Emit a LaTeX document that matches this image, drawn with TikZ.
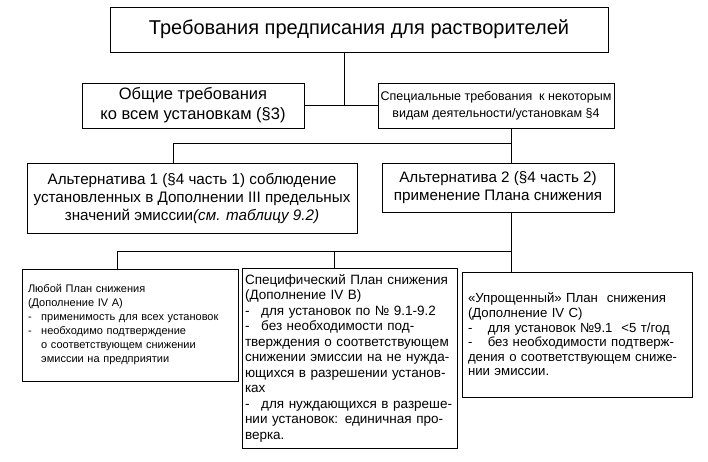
\documentclass[tikz,border=0pt]{standalone}
\usepackage{fontspec}
\setmainfont{Liberation Sans}
\usetikzlibrary{positioning,calc}
\newcommand{\plandash}[1][1.2em]{\makebox[#1][l]{-}}
\tikzset{
  box/.style={draw=black, line width=0.7pt, inner sep=2pt, align=center},
  headbox/.style={box, font=\fontsize{20}{24}\selectfont},
  reqbox/.style={box, font=\fontsize{16.5}{20}\selectfont},
  specbox/.style={box, font=\fontsize{12.5}{17}\selectfont},
  altbox/.style={box, font=\fontsize{15.2}{18}\selectfont},
  plan/.style={draw=black, line width=0.7pt, align=left, inner ysep=3pt},
  link/.style={line width=0.8pt, color=black},
}
\begin{document}
\begin{tikzpicture}[x=1pt,y=-1pt]
  \useasboundingbox (0,0) rectangle (708,461);
  % requirement levels
  \node[headbox, minimum width=498, minimum height=45] (title) at (359,29.5) {Требования предписания для растворителей};
  \node[reqbox, minimum width=222, minimum height=45] (general) at (193,105.5) {Общие требования\\ко всем установкам (§3)};
  \node[specbox, minimum width=236, minimum height=45] (special) at (496,105.5) {Специальные требования \ к некоторым\\видам деятельности/установкам §4};
  \node[altbox, minimum width=330, minimum height=70] (alt1) at (192,198) {Альтернатива 1 (§4 часть 1) соблюдение\\установленных в Дополнении III предельных\\значений эмиссии\textit{(см. таблицу 9.2)}};
  \node[altbox, minimum width=232, minimum height=49] (alt2) at (498,187.5) {Альтернатива 2 (§4 часть 2)\\применение Плана снижения};
  % reduction plans
  \node[plan, font=\fontsize{11}{14}\selectfont, text width=204, inner xsep=6pt, minimum width=216, minimum height=112] (anyplan) at (130,325) {Любой План снижения\\(Дополнение IV A)\\\plandash применимость для всех установок\\\plandash необходимо подтверждение\\\hspace*{1.2em}о соответствующем снижении\\\hspace*{1.2em}эмиссии на предприятии};
  \node[plan, font=\fontsize{13.5}{15.5}\selectfont, text width=209, inner xsep=3pt, minimum width=215, minimum height=180] (specplan) at (349.5,358) {Специфический План снижения\\(Дополнение IV B)\\\plandash для установок по № 9.1-9.2\\\plandash без необходимости под-\\тверждения о соответствующем\\снижении эмиссии на не нужда-\\ющихся в разрешении установ-\\ках\\\plandash для нуждающихся в разреше-\\нии установок: единичная про-\\верка.};
  \node[plan, font=\fontsize{13.2}{14.6}\selectfont, text width=218, inner xsep=6pt, minimum width=230, minimum height=125] (simpleplan) at (577,334.5) {«Упрощенный» План \ снижения\\(Дополнение IV C)\\\plandash[1.5em]для установок №9.1 \ <5 т/год\\\plandash[1.5em]без необходимости подтверж-\\дения о соответствующем сниже-\\нии эмиссии.};
  % connectors
  \coordinate (trunk) at (344,105.5);
  \draw[link] (title.south -| trunk) -- (trunk);
  \draw[link] (general.east) -- (special.west);
  \coordinate (altfork) at (511,143);
  \coordinate (altleft) at (173,143);
  \draw[link] (special.south -| altfork) -- (alt2.north -| altfork);
  \draw[link] (altfork) -- (altleft) -- (alt1.north -| altleft);
  \coordinate (planfork) at (511,251);
  \coordinate (planleft) at (117,251);
  \coordinate (planmid) at (334,251);
  \draw[link] (alt2.south -| planfork) -- (simpleplan.north -| planfork);
  \draw[link] (planfork) -- (planleft) -- (anyplan.north -| planleft);
  \draw[link] (planmid) -- (specplan.north -| planmid);
\end{tikzpicture}
\end{document}
